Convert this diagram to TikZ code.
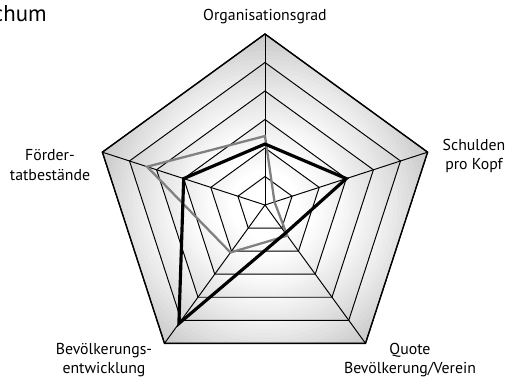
\documentclass[tikz,border=0pt]{standalone}
\usepackage{fontspec}
\setmainfont{PT Sans}

\tikzset{
  grid line/.style={draw, line width=0.55pt},
  series a/.style={draw, line width=1.8pt, black},
  series b/.style={draw, line width=1.3pt, black!50},
  axis label/.style={align=center, font=\fontsize{9}{11.3}\selectfont},
}

\begin{document}
\begin{tikzpicture}[x=0.02cm, y=0.02cm]
\useasboundingbox (-265,-178) rectangle (256,205);
\coordinate (c) at (0,0);

% rings, outermost first; each one darkens towards its rim
\foreach \r/\g in {6/21,5/17,4/13,3/9,2/6,1/3} {
  \begin{scope}
    \clip (90:\r*28.5) -- (18:\r*28.5) -- (-54:\r*28.5) -- (-126:\r*28.5) -- (162:\r*28.5) -- cycle;
    \foreach \k in {0,...,16} {
      \pgfmathsetmacro\rho{\r*28.5*(1-0.025*\k)}
      \pgfmathsetmacro\tone{\g*(16-\k)/16}
      \fill[black!\tone] (c) circle (\rho);
    }
  \end{scope}
  \draw[grid line] (90:\r*28.5) -- (18:\r*28.5) -- (-54:\r*28.5) -- (-126:\r*28.5) -- (162:\r*28.5) -- cycle;
}

% spokes
\foreach \ax/\ang in {org/90, sch/18, quo/-54, bev/-126, foe/162} {
  \coordinate (ax-\ax) at (\ang:171);
  \draw[grid line] (c) -- (ax-\ax);
}
\draw[line width=0.8pt] (ax-org) -- (ax-sch) -- (ax-quo) -- (ax-bev) -- (ax-foe) -- cycle;

% data
\foreach \ax/\ang/\va/\vb in {org/90/2.14/2.42, sch/18/3.0/0.35, quo/-54/1.22/1.33, bev/-126/5.14/2.06, foe/162/3.0/4.35} {
  \coordinate (a-\ax) at (\ang:\va*28.5);
  \coordinate (b-\ax) at (\ang:\vb*28.5);
}
\draw[series b] (b-org) -- (b-sch) -- (b-quo) -- (b-bev) -- (b-foe) -- cycle;
\draw[series a] (a-org) -- (a-sch) -- (a-quo) -- (a-bev) -- (a-foe) -- cycle;

% labels
\node[axis label] (lab-org) at (0,188) {Organisationsgrad};
\node[axis label] (lab-sch) at (209,49) {Schulden\\pro Kopf};
\node[axis label] (lab-foe) at (-215,40) {Förder-\\tatbestände};
\node[axis label] (lab-bev) at (-161,-155) {Bevölkerungs-\\entwicklung};
\node[axis label] (lab-quo) at (145,-155) {Quote\\Bevölkerung/Verein};
\node[anchor=base east, inner sep=0pt, font=\fontsize{13}{15}\selectfont] (title) at (-218,184) {chum};
\end{tikzpicture}
\end{document}
